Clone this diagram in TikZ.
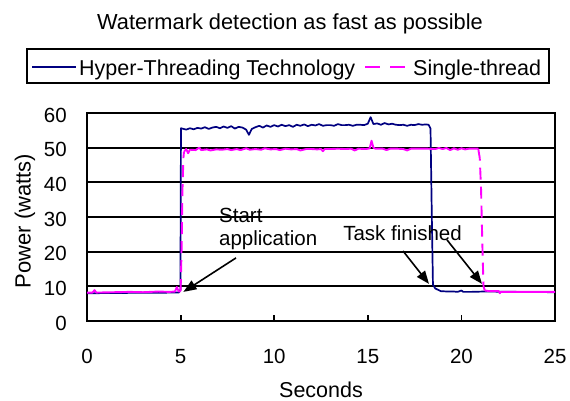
\documentclass[tikz,border=0pt]{standalone}
\usepackage{fontspec}
\setmainfont{Liberation Sans}
\usetikzlibrary{arrows.meta}

\definecolor{htblue}{RGB}{0,0,128}
\definecolor{stpink}{RGB}{255,0,255}

\tikzset{
    gridline/.style={line width=1.8pt},
    htline/.style={draw=htblue,line width=1.7pt,line join=round},
    stline/.style={draw=stpink,line width=1.9pt,line join=round},
    stdash/.style={stline,dash pattern=on 12pt off 7pt},
    ticklabel/.style={font=\fontsize{20.5}{24}\selectfont,inner sep=0pt},
    note/.style={font=\fontsize{20.5}{23}\selectfont,inner sep=0pt,align=left},
    pointer/.style={line width=1.6pt,-{Triangle[length=13pt,width=10pt]}}
}

\begin{document}
\begin{tikzpicture}[x=1pt,y=1pt]
    \useasboundingbox (0,0) rectangle (570,400);

    % title and legend
    \node (title) [font=\fontsize{21.8}{26}\selectfont] at (290,376) {Watermark detection as fast as possible};
    \draw [line width=1.9pt] (27,317) rectangle (549,351);
    \coordinate (htA) at (32,333);
    \coordinate (htB) at (76,333);
    \coordinate (stA) at (365,333);
    \coordinate (stB) at (405,333);
    \draw [htline] (htA) -- (htB);
    \draw [stline,dash pattern=on 15pt off 10pt] (stA) -- (stB);
    \node (htkey) [anchor=base west,inner sep=0pt,font=\fontsize{21.5}{25}\selectfont] at (79,325) {Hyper-Threading Technology};
    \node (stkey) [anchor=base west,inner sep=0pt,font=\fontsize{21.5}{25}\selectfont] at (413,325) {Single-thread};

    % axis titles
    \node (ylab) [rotate=90,font=\fontsize{22}{26}\selectfont] at (25,179) {Power (watts)};
    \node (xlab) [anchor=base,inner sep=0pt,font=\fontsize{21.5}{25}\selectfont] at (321,3) {Seconds};

    \begin{scope}[shift={(87,79)},x=18.72pt,y=3.467pt]
        % grid, frame, ticks
        \foreach \w in {10,20,...,50}
            \draw [gridline] (0,\w) -- (25,\w);
        \draw [gridline] (0,0) rectangle (25,60);
        \foreach \s in {5,10,15,20}
            \draw [gridline] (\s,0) -- ++(0,6pt);
        \foreach \w in {0,10,...,60}
            \node (y\w) [ticklabel,anchor=east,xshift=-20pt,yshift=-2pt] at (0,\w) {\w};
        \foreach \s in {0,5,...,25}
            \node (x\s) [ticklabel,anchor=base,yshift=-42pt] at (\s,0) {\s};

        % Hyper-Threading
        \draw [htline] (0,8.0) -- (2,8.1) -- (4.9,8.2) -- (4.99,9) -- (5.02,55.6)
            -- (5.3,55.2) -- (5.5,55.6) -- (5.7,55.3) -- (5.9,55.7) -- (6.1,55.5) -- (6.3,55.9)
            -- (6.5,55.4) -- (6.7,55.8) -- (6.9,56.0) -- (7.1,55.6) -- (7.3,56.1) -- (7.5,55.7)
            -- (7.7,56.2) -- (7.9,55.5) -- (8.1,56.0) -- (8.3,55.8) -- (8.5,55.2) -- (8.65,53.7)
            -- (8.8,55.4) -- (9.0,55.9) -- (9.2,56.3) -- (9.4,55.8) -- (9.6,56.4) -- (9.8,56.0)
            -- (10.0,56.5) -- (10.2,56.1) -- (10.4,56.6) -- (10.6,56.2) -- (10.8,56.5) -- (11.0,56.0)
            -- (11.2,56.6) -- (11.4,56.3) -- (11.6,56.7) -- (11.8,56.2) -- (12.0,56.6) -- (12.2,56.4)
            -- (12.4,56.8) -- (12.6,56.3) -- (12.8,56.5) -- (13.0,56.5) -- (13.2,56.3) -- (13.4,56.8)
            -- (13.6,56.5) -- (13.8,56.5) -- (14.0,56.6) -- (14.2,56.3) -- (14.4,56.6) -- (14.6,56.6)
            -- (14.8,56.5) -- (15.0,56.9) -- (15.15,58.8) -- (15.3,56.8) -- (15.5,57.0) -- (15.7,56.6)
            -- (15.9,57.1) -- (16.1,56.7) -- (16.3,56.9) -- (16.5,56.6) -- (16.7,56.5) -- (16.9,56.6)
            -- (17.1,56.3) -- (17.3,56.6) -- (17.5,56.5) -- (17.7,56.8) -- (17.9,56.6) -- (18.1,56.7)
            -- (18.25,56.6) -- (18.35,55.5) -- (18.42,30) -- (18.48,10.5) -- (18.6,9.4) -- (18.9,8.6)
            -- (19.3,8.5) -- (19.6,8.5) -- (19.8,8.4) -- (20.0,8.8) -- (20.1,8.4) -- (20.5,8.4)
            -- (21.2,8.5) -- (25,8.3);

        % Single-thread
        \draw [stline] (0,8.2) -- (0.3,8.2) -- (0.4,8.9) -- (0.5,8.2) -- (1.4,8.3) -- (2.3,8.4)
            -- (3.0,8.3) -- (3.8,8.5) -- (4.4,8.4) -- (4.7,8.5) -- (4.8,9.8) -- (4.9,8.5) -- (5.0,8.6);
        \draw [stdash] (5.0,8.6) -- (5.05,20) -- (5.1,38) -- (5.15,47) -- (5.18,48.8);
        \draw [stline] (5.18,48.8) -- (5.3,49.6) -- (5.4,48.4) -- (5.5,49.4) -- (5.8,49.3) -- (6.0,50.0)
            -- (6.1,49.3) -- (6.4,49.5) -- (6.6,49.2) -- (6.9,49.5) -- (7.2,49.4) -- (7.5,49.6)
            -- (7.7,49.3) -- (8.0,49.6) -- (8.2,49.3) -- (8.5,49.8) -- (8.7,49.4) -- (9.0,49.6)
            -- (9.3,49.4) -- (9.5,49.8) -- (9.8,49.5) -- (10.1,49.6) -- (10.3,49.3) -- (10.6,49.7)
            -- (10.9,49.5) -- (11.2,49.6) -- (11.4,49.2) -- (11.7,49.6) -- (12.0,49.6) -- (12.3,49.5)
            -- (12.5,49.6) -- (12.6,49.0) -- (12.7,49.6) -- (13.0,49.6) -- (13.4,49.7) -- (13.8,49.6)
            -- (14.1,49.7) -- (14.3,49.2) -- (14.5,49.7) -- (14.9,49.6) -- (15.1,49.8) -- (15.2,52.0)
            -- (15.3,50.0) -- (15.4,49.7) -- (15.8,49.7) -- (16.0,49.3) -- (16.2,49.7) -- (16.6,49.7)
            -- (16.9,49.6) -- (17.1,49.2) -- (17.3,49.7) -- (17.8,49.7) -- (18.2,49.7) -- (18.6,49.6)
            -- (18.8,49.9) -- (19.0,49.6) -- (19.2,49.9) -- (19.4,49.3) -- (19.6,49.8) -- (19.8,49.4)
            -- (20.0,49.8) -- (20.2,49.5) -- (20.4,49.7) -- (20.9,49.7);
        \draw [stdash] (20.9,49.7) -- (20.98,47) -- (21.05,38) -- (21.12,22) -- (21.18,10) -- (21.25,8.8);
        \draw [stline] (21.25,8.8) -- (21.5,8.6) -- (22.0,8.6) -- (22.05,8.0) -- (22.1,8.4) -- (25,8.4);

        % annotations
        \node (start) [note,anchor=north west] at (7.05,32.6) {Start\\application};
        \node (finished) [note,anchor=north west] at (13.68,27.7) {Task finished};
        \coordinate (startTail) at (7.96,18.2);
        \coordinate (startTip)  at (5.15,8.4);
        \coordinate (htTail)    at (16.88,20.2);
        \coordinate (htTip)     at (18.27,10.7);
        \coordinate (stTail)    at (19.23,23.4);
        \coordinate (stTip)     at (21.1,10.7);
        \draw [pointer] (startTail) -- (startTip);
        \draw [pointer] (htTail) -- (htTip);
        \draw [pointer] (stTail) -- (stTip);
    \end{scope}
\end{tikzpicture}
\end{document}
